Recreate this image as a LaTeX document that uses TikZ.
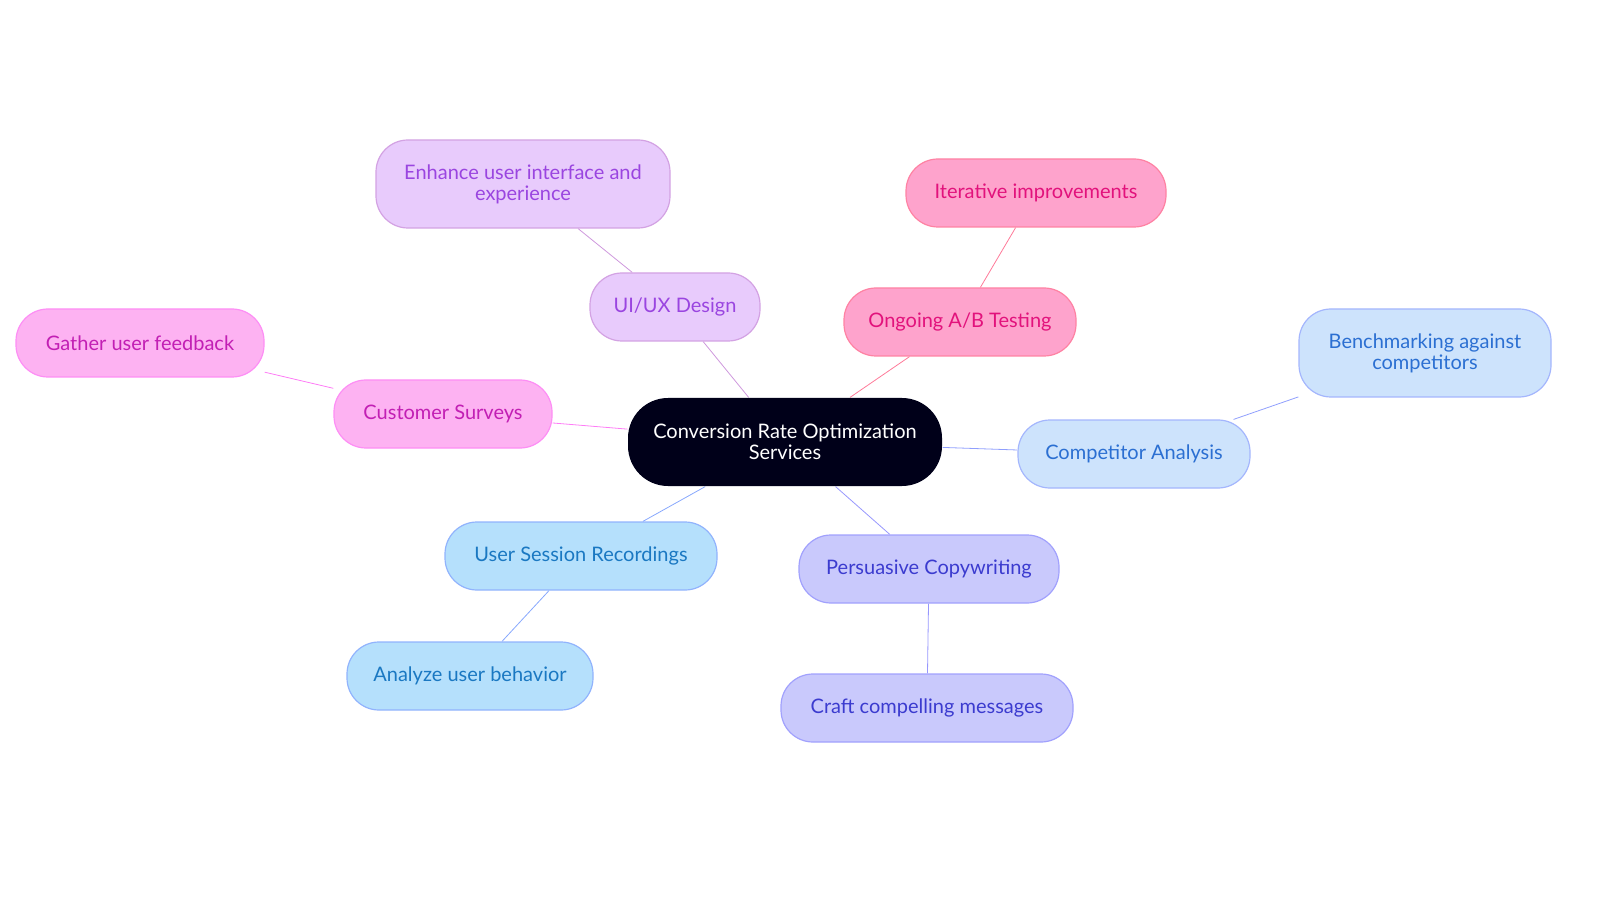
\documentclass[tikz,border=0pt]{standalone}
\usepackage{fontspec}
\setmainfont{Lato}
\usetikzlibrary{backgrounds}
\definecolor{pinkfill}{HTML}{FDB2F2}\definecolor{pinktext}{HTML}{C21FB4}
\definecolor{lilacfill}{HTML}{E8CBFC}\definecolor{lilactext}{HTML}{9A45E0}
\definecolor{rosefill}{HTML}{FEA3CC}\definecolor{rosetext}{HTML}{E2127C}
\definecolor{paleblue}{HTML}{CDE3FC}\definecolor{paletext}{HTML}{2B6FD2}
\definecolor{violetfill}{HTML}{C9C9FC}\definecolor{violettext}{HTML}{3B3BCF}
\definecolor{skyfill}{HTML}{B5E0FC}\definecolor{skytext}{HTML}{1A78C2}
\tikzset{bubble/.style = {rounded corners=16pt, minimum height=34pt, align=center, font=\fontsize{10}{10.5}\selectfont, line width=0.6pt},
  leaf/.style = {bubble, minimum height=44pt}}
\begin{document}
\begin{tikzpicture}[x=0.5pt, y=-0.5pt]
    \useasboundingbox (0,0) rectangle (1600,903);
    \node [bubble, fill=black!90!blue, text=white, minimum width=157pt, minimum height=44pt, rounded corners=20pt] (cro) at (785,442) {Conversion Rate Optimization\\Services};

    \node [bubble, fill=pinkfill, draw=pinkfill!80!magenta, text=pinktext, minimum width=109pt] (surveys) at (443,414) {Customer Surveys};
    \node [bubble, fill=pinkfill, draw=pinkfill!80!magenta, text=pinktext, minimum width=124pt] (feedback) at (140,343) {Gather user feedback};

    \node [bubble, fill=lilacfill, draw=lilacfill!80!violet, text=lilactext, minimum width=85pt] (uiux) at (675,307) {UI/UX Design};
    \node [leaf, fill=lilacfill, draw=lilacfill!80!violet, text=lilactext, minimum width=147pt] (enhance) at (523,184) {Enhance user interface and\\experience};

    \node [bubble, fill=rosefill, draw=rosefill!80!red, text=rosetext, minimum width=116pt] (abtest) at (960,322) {Ongoing A/B Testing};
    \node [bubble, fill=rosefill, draw=rosefill!80!red, text=rosetext, minimum width=130pt] (iterate) at (1036,193) {Iterative improvements};

    \node [bubble, fill=paleblue, draw=paleblue!80!blue, text=paletext, minimum width=116pt] (rivals) at (1134,454) {Competitor Analysis};
    \node [leaf, fill=paleblue, draw=paleblue!80!blue, text=paletext, minimum width=126pt] (bench) at (1425,353) {Benchmarking against\\competitors};

    \node [bubble, fill=violetfill, draw=violetfill!80!blue, text=violettext, minimum width=130pt] (copy) at (929,569) {Persuasive Copywriting};
    \node [bubble, fill=violetfill, draw=violetfill!80!blue, text=violettext, minimum width=146pt] (craft) at (927,708) {Craft compelling messages};

    \node [bubble, fill=skyfill, draw=skyfill!80!blue, text=skytext, minimum width=136pt] (sessions) at (581,556) {User Session Recordings};
    \node [bubble, fill=skyfill, draw=skyfill!80!blue, text=skytext, minimum width=123pt] (behavior) at (470,676) {Analyze user behavior};

    \begin{scope}[on background layer, line width=1.3pt]
      \draw [pinkfill!70!magenta] (cro) -- (surveys) -- (feedback);
      \draw [lilacfill!75!violet] (cro) -- (uiux) -- (enhance);
      \draw [rosefill!75!red] (cro) -- (abtest) -- (iterate);
      \draw [paleblue!70!blue] (cro) -- (rivals) -- (bench);
      \draw [violetfill!75!blue] (cro) -- (copy) -- (craft);
      \draw [skyfill!75!blue] (cro) -- (sessions) -- (behavior);
    \end{scope}
\end{tikzpicture}
\end{document}
